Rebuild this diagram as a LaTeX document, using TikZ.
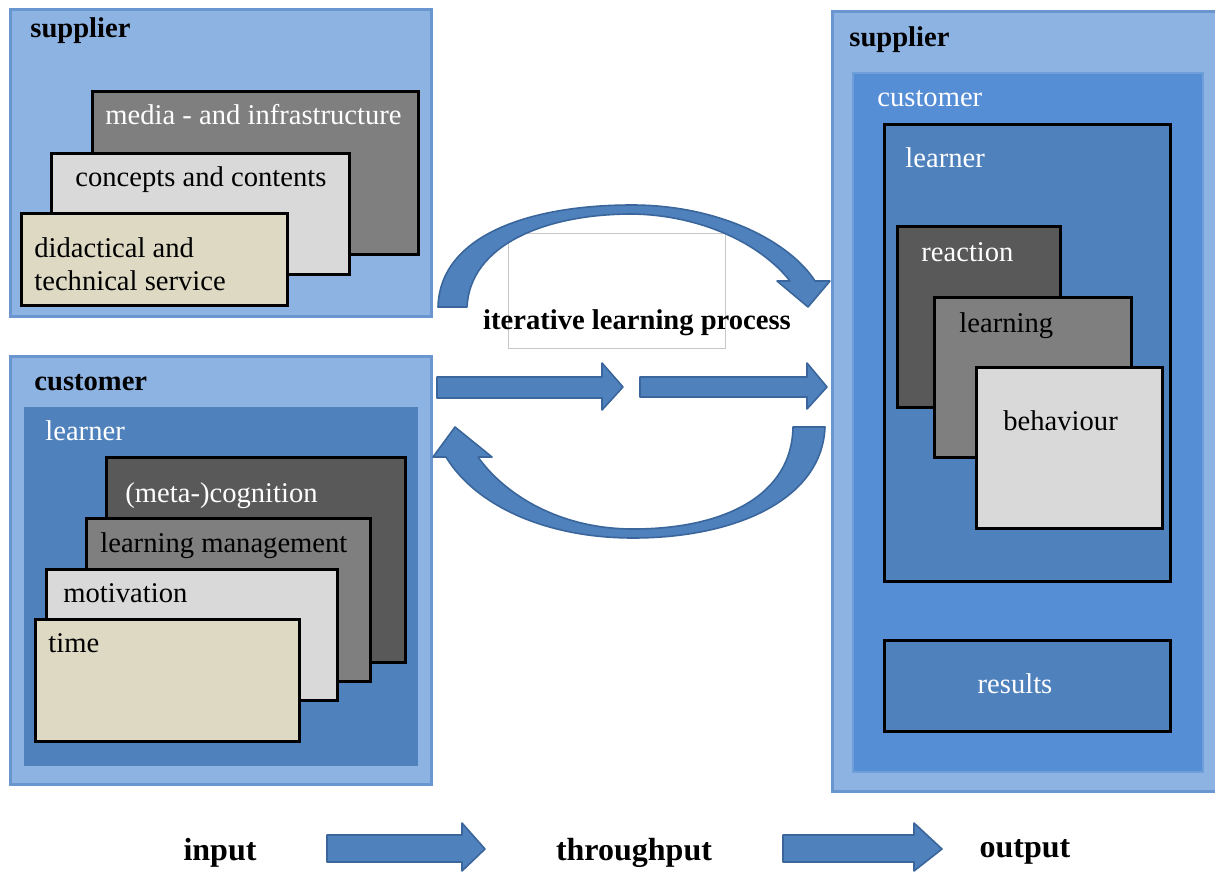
\documentclass[tikz,border=0pt]{standalone}
\usepackage{fontspec}
\setmainfont{Liberation Serif}
\definecolor{paleblue}{HTML}{8DB3E2}
\definecolor{rimblue}{HTML}{6A96CF}
\definecolor{learnblue}{HTML}{4F81BD}
\definecolor{custblue}{HTML}{558ED5}
\definecolor{arrowrim}{HTML}{3A669C}
\definecolor{darkcard}{HTML}{595959}
\definecolor{midcard}{HTML}{7F7F7F}
\definecolor{lightcard}{HTML}{D9D9D9}
\definecolor{tancard}{HTML}{DDD9C3}

\begin{document}
\begin{tikzpicture}[x=0.5pt, y=-0.5pt,
	every node/.style={inner sep=0pt, font=\fontsize{14.3pt}{17pt}\selectfont},
	frame/.style={draw=rimblue, line width=1.5pt, fill=paleblue},
	card/.style={draw=black, line width=1.5pt},
	blockarrow/.style={draw=arrowrim, line width=0.8pt, fill=learnblue, line join=round},
	head/.style={anchor=base west, font=\fontsize{14.3pt}{17pt}\selectfont\bfseries},
	txt/.style={anchor=base west},
	wtxt/.style={anchor=base west, text=white},
	stage/.style={anchor=base, font=\fontsize{16pt}{19pt}\selectfont\bfseries}]
	\useasboundingbox (0,0) rectangle (1215,872);

	% input: supplier
	\draw[frame] (10,10) rectangle (431,316);
	\node[head] (supin) at (30,38) {supplier};
	\draw[card, fill=midcard] (92,92) rectangle (418,254);
	\node[wtxt] (media) at (105,125) {media - and infrastructure};
	\draw[card, fill=lightcard] (51,153) rectangle (349,274);
	\node[txt] (concepts) at (75,186) {concepts and contents};
	\draw[card, fill=tancard] (21,213) rectangle (287,305);
	\node[txt] (didact) at (34,257) {didactical and};
	\node[txt] (service) at (34,290) {technical service};

	% input: customer
	\draw[frame] (10,356) rectangle (431,784);
	\node[head] (custin) at (34,390) {customer};
	\draw[fill=learnblue, draw=learnblue] (24,407) rectangle (417,765);
	\node[wtxt] (learnin) at (45,440) {learner};
	\draw[card, fill=darkcard] (106,457) rectangle (405,662);
	\node[wtxt] (cognition) at (125,502) {(meta-)cognition};
	\draw[card, fill=midcard] (86,518) rectangle (370,681);
	\node[txt] (manage) at (100,552) {learning management};
	\draw[card, fill=lightcard] (46,569) rectangle (337,700);
	\node[txt] (motiv) at (63,602) {motivation};
	\draw[card, fill=tancard] (35,619) rectangle (299,741);
	\node[txt] (time) at (48,652) {time};

	% output
	\draw[frame] (832,12) rectangle (1222,791);
	\node[head] (supout) at (849,47) {supplier};
	\draw[fill=custblue, draw=custblue!85!white, line width=1pt] (853,73) rectangle (1203,772);
	\node[wtxt] (custout) at (877,107) {customer};
	\draw[card, fill=learnblue] (884,125) rectangle (1170,581);
	\node[wtxt] (learnout) at (905,167) {learner};
	\draw[card, fill=darkcard] (897,226) rectangle (1060,407);
	\node[wtxt] (reaction) at (921,261) {reaction};
	\draw[card, fill=midcard] (934,297) rectangle (1131,457);
	\node[txt] (learning) at (959,332) {learning};
	\draw[card, fill=lightcard] (976,367) rectangle (1162,528);
	\node[txt] (behaviour) at (1003,430) {behaviour};
	\draw[card, fill=learnblue] (884,640) rectangle (1170,731);
	\node[anchor=base, text=white] (results) at (1015,693) {results};

	% throughput
	\draw[black!22, line width=0.5pt] (508,233) rectangle (725,348);
	\draw[blockarrow] (438,307) .. controls (440,235) and (530,205) .. (632,205)
		.. controls (720,205) and (790,242) .. (815,281) -- (830,281) -- (808,307)
		-- (777,281) -- (790,281) .. controls (760,243) and (700,215) .. (632,214)
		.. controls (545,214) and (470,245) .. (467,307) -- cycle;
	\draw[blockarrow] (825,427) .. controls (822,500) and (735,538) .. (633,538)
		.. controls (545,538) and (475,505) .. (446,457) -- (433,457) -- (455,427)
		-- (492,457) -- (478,457) .. controls (505,495) and (560,529) .. (633,529)
		.. controls (725,529) and (792,495) .. (793,427) -- cycle;
	\draw[blockarrow] (437,377) -- (602,377) -- (602,363) -- (623,387) -- (602,410) -- (602,398) -- (437,398) -- cycle;
	\draw[blockarrow] (640,377) -- (807,377) -- (807,363) -- (827,387) -- (807,409) -- (807,397) -- (640,397) -- cycle;
	\node[anchor=base, font=\fontsize{14.3pt}{17pt}\selectfont\bfseries] (loop) at (637,329) {iterative learning process};

	% bottom line
	\node[stage] (input) at (220,860) {input};
	\node[stage] (through) at (634,860) {throughput};
	\node[stage] (output) at (1025,857) {output};
	\draw[blockarrow] (327,835) -- (462,835) -- (462,823) -- (485,849) -- (462,871) -- (462,862) -- (327,862) -- cycle;
	\draw[blockarrow] (783,835) -- (914,835) -- (914,823) -- (942,849) -- (914,871) -- (914,862) -- (783,862) -- cycle;
\end{tikzpicture}
\end{document}
